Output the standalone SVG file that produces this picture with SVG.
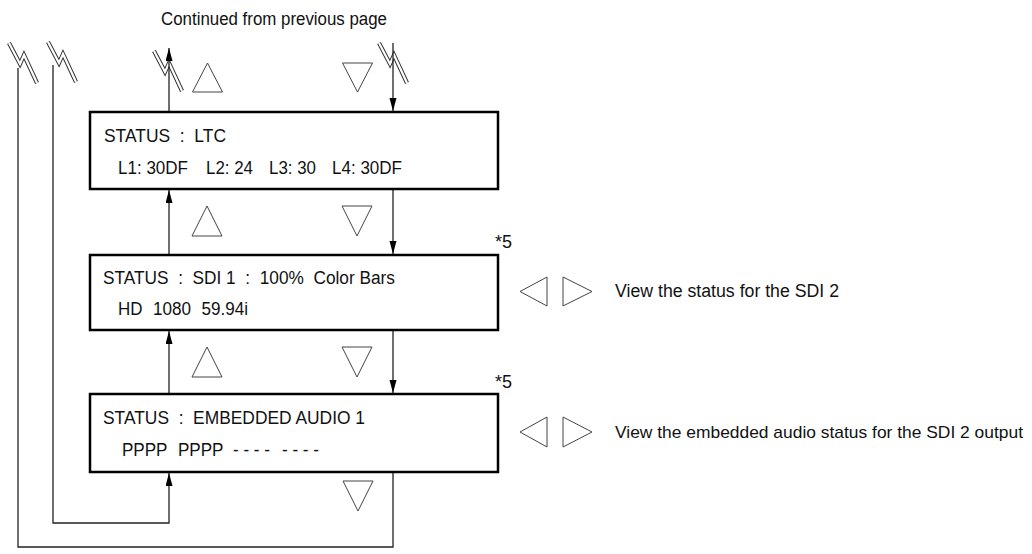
<svg xmlns="http://www.w3.org/2000/svg" width="1032" height="554" viewBox="0 0 1032 554">
<style>
.box{fill:#fff;stroke:#000;stroke-width:2.5}
.t{font-family:"Liberation Sans",Arial,sans-serif;font-size:18px;fill:#111}
.v{font-family:"Liberation Sans",Arial,sans-serif;font-size:18px;fill:#111}
.v2{font-family:"Liberation Sans",Arial,sans-serif;font-size:17px;fill:#111}
.c{fill:none;stroke:#222;stroke-width:1.3}
.tri{fill:#fff;stroke:#444;stroke-width:1}
.brk1{fill:none;stroke:#333;stroke-width:4.2;stroke-linejoin:miter}
.brk2{fill:none;stroke:#fff;stroke-width:2.2;stroke-linejoin:miter}
</style>
<defs>
<marker id="ah" markerUnits="userSpaceOnUse" markerWidth="14" markerHeight="8" refX="13" refY="3.5" orient="auto">
<path d="M0,0 L13,3.5 L0,7 z" fill="#000"/>
</marker>
<g id="brk">
<polyline class="brk1" points="-14,-20 -3,1 1,-8 14,20"/>
<polyline class="brk2" points="-14,-20 -3,1 1,-8 14,20"/>
</g>
</defs>

<text class="t" x="161" y="25" textLength="226" lengthAdjust="spacingAndGlyphs">Continued from previous page</text>

<g id="breaks">
<use href="#brk" x="23" y="63"/>
<use href="#brk" x="62" y="62"/>
<use href="#brk" x="168" y="71"/>
<use href="#brk" x="393" y="63"/>
</g>

<g id="connectors">
<line class="c" x1="169" y1="111" x2="169" y2="48" marker-end="url(#ah)"/>
<line class="c" x1="393" y1="43" x2="393" y2="111" marker-end="url(#ah)"/>
<line class="c" x1="169" y1="254" x2="169" y2="190" marker-end="url(#ah)"/>
<line class="c" x1="393" y1="190" x2="393" y2="254" marker-end="url(#ah)"/>
<line class="c" x1="169" y1="393" x2="169" y2="331" marker-end="url(#ah)"/>
<line class="c" x1="393" y1="331" x2="393" y2="393" marker-end="url(#ah)"/>
<polyline class="c" points="53,65 53,523 169,523 169,473" marker-end="url(#ah)"/>
<polyline class="c" points="393,473 393,547 18,547 18,68"/>
</g>

<g id="triangles">
<polygon class="tri" points="207.5,63 222.5,92 192.5,92"/>
<polygon class="tri" points="342.5,63 372.5,63 357.5,92"/>
<polygon class="tri" points="207,206 222,236 192,236"/>
<polygon class="tri" points="342,206 372,206 357,236"/>
<polygon class="tri" points="207,347 222,377 192,377"/>
<polygon class="tri" points="342,347 372,347 357,377"/>
<polygon class="tri" points="343,481 373,481 358,511"/>
<polygon class="tri" points="520,291.5 547,277 547,306"/>
<polygon class="tri" points="563,277 592,291.5 563,306"/>
<polygon class="tri" points="520,432 547,417 547,447"/>
<polygon class="tri" points="563,417 592,432 563,447"/>
</g>

<g id="node-ltc">
<rect class="box" x="90" y="112" width="408" height="77"/>
<text class="t" x="104" y="142" xml:space="preserve" textLength="122" lengthAdjust="spacingAndGlyphs">STATUS  :  LTC</text>
<text class="t" y="174"><tspan x="118" textLength="70" lengthAdjust="spacingAndGlyphs">L1: 30DF</tspan><tspan x="206" textLength="47" lengthAdjust="spacingAndGlyphs">L2: 24</tspan><tspan x="269" textLength="47" lengthAdjust="spacingAndGlyphs">L3: 30</tspan><tspan x="332" textLength="70" lengthAdjust="spacingAndGlyphs">L4: 30DF</tspan></text>
</g>

<g id="node-sdi">
<rect class="box" x="90" y="255" width="408" height="75"/>
<text class="t" x="103" y="284" xml:space="preserve" textLength="292" lengthAdjust="spacingAndGlyphs">STATUS  :  SDI 1  :  100%  Color Bars</text>
<text class="t" y="315"><tspan x="118" textLength="24.5" lengthAdjust="spacingAndGlyphs">HD</tspan><tspan x="153" textLength="38" lengthAdjust="spacingAndGlyphs">1080</tspan><tspan x="201.5" textLength="46.5" lengthAdjust="spacingAndGlyphs">59.94i</tspan></text>
<text class="t" x="495" y="248">*5</text>
<text class="v" x="615" y="297" textLength="224" lengthAdjust="spacingAndGlyphs">View the status for the SDI 2</text>
</g>

<g id="node-audio">
<rect class="box" x="90" y="394" width="408" height="78"/>
<text class="t" x="103" y="424" xml:space="preserve" textLength="262" lengthAdjust="spacingAndGlyphs">STATUS  :  EMBEDDED AUDIO 1</text>
<text class="t" y="456"><tspan x="122" textLength="45.5" lengthAdjust="spacingAndGlyphs">PPPP</tspan><tspan x="178" textLength="45.5" lengthAdjust="spacingAndGlyphs">PPPP</tspan><tspan x="233" xml:space="preserve" textLength="37" lengthAdjust="spacingAndGlyphs">- - - -</tspan><tspan x="282" xml:space="preserve" textLength="37" lengthAdjust="spacingAndGlyphs">- - - -</tspan></text>
<text class="t" x="495" y="388">*5</text>
<text class="v2" x="615" y="438" textLength="408" lengthAdjust="spacingAndGlyphs">View the embedded audio status for the SDI 2 output</text>
</g>
</svg>
